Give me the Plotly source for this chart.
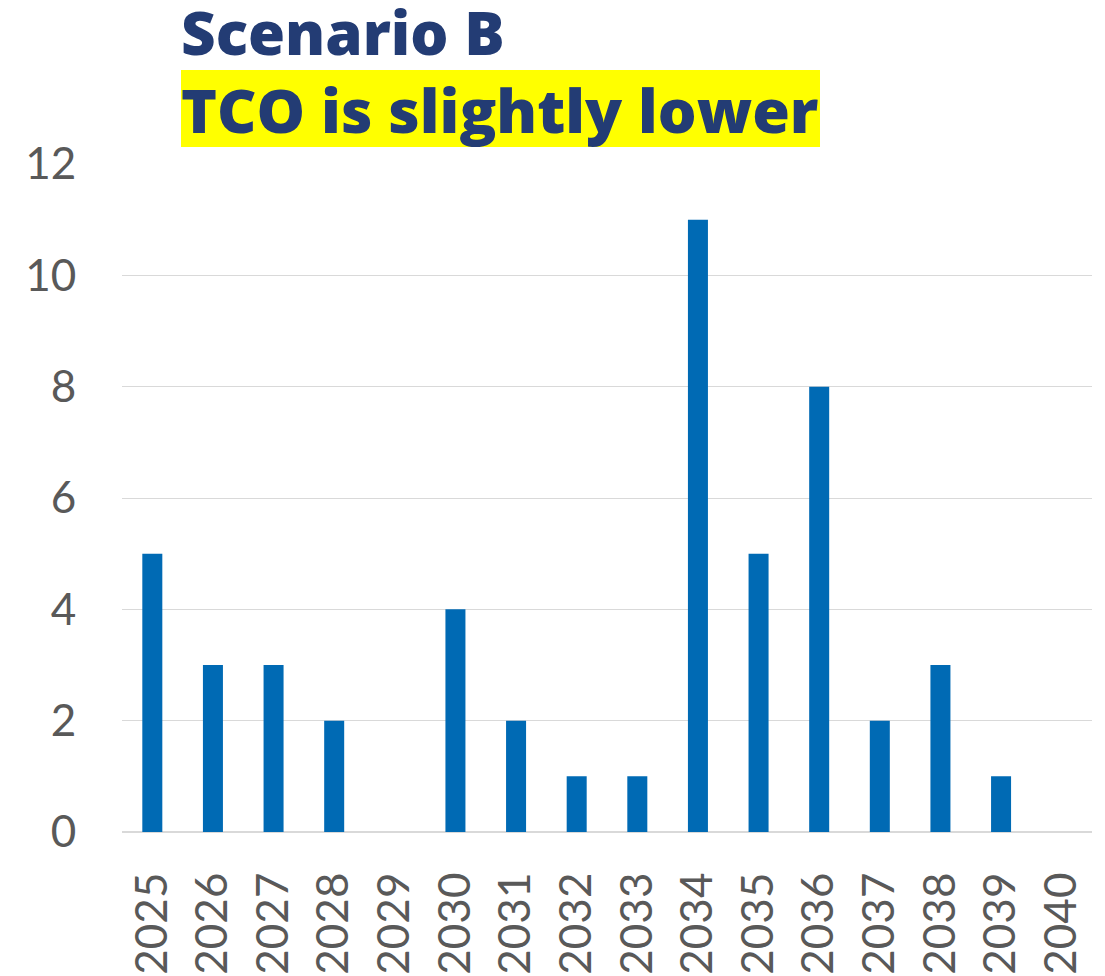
import plotly.graph_objects as go

years = [str(y) for y in range(2025, 2041)]
values = [5, 3, 3, 2, 0, 4, 2, 1, 1, 11, 5, 8, 2, 3, 1, 0]
y_ticks = [0, 2, 4, 6, 8, 10, 12]
title_line1 = "Scenario B"
title_line2 = "TCO is slightly lower"

fig = go.Figure(go.Bar(x=years, y=values, marker_color="#006AB4", marker_line_width=0))

fig.update_layout(
    width=1105, height=976,
    margin=dict(l=122, r=13, t=164, b=144, autoexpand=False),
    paper_bgcolor="white", plot_bgcolor="white",
    bargap=0.67,
    showlegend=False,
    font=dict(family="Lato", color="#595959"),
)
fig.update_xaxes(
    type="category", tickangle=-90, tickfont=dict(size=44, color="#595959", family="Lato"),
    showgrid=False, showline=False, ticks="outside", ticklen=22, tickcolor="rgba(0,0,0,0)",
    automargin=False,
)
fig.update_yaxes(
    range=[0, 12], tickvals=y_ticks, showgrid=True, gridcolor="#D9D9D9", gridwidth=1,
    zeroline=True, zerolinecolor="#D9D9D9", zerolinewidth=1.5,
    tickfont=dict(size=44, color="#595959", family="Lato"),
    ticks="outside", ticklen=36, tickcolor="rgba(0,0,0,0)", automargin=False,
)
# yellow highlight behind the second title line
fig.add_shape(
    type="rect", xref="paper", yref="paper", layer="below",
    x0=(181 - 122) / 970, x1=(820 - 122) / 970,
    y0=1 + (164 - 147) / 668, y1=1 + (164 - 70) / 668,
    fillcolor="#FFFF00", line_width=0,
)
fig.add_annotation(
    xref="paper", yref="paper", x=(180 - 122) / 970, y=1 + 164 / 668,
    xanchor="left", yanchor="top", align="left", yshift=10,
    text=title_line1 + "<br><span style='font-size:61px'>" + title_line2 + "</span>", showarrow=False,
    font=dict(family="Open Sans", size=60, color="#233C74", weight=800), borderpad=0,
)
fig.write_html("out.html", config={"displayModeBar": False},
               post_script="document.body.style.margin='0';document.body.style.overflow='hidden';")
